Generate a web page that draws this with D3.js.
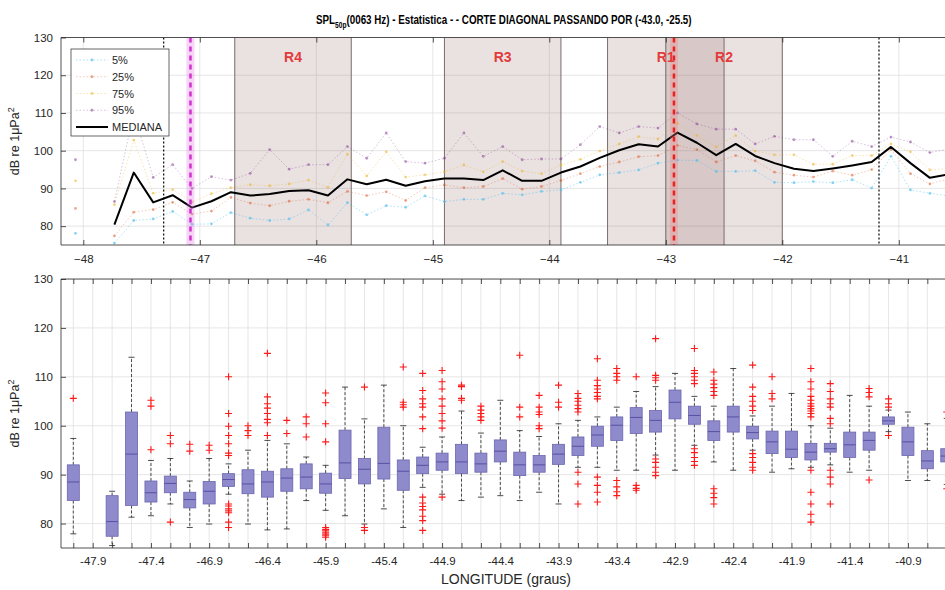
<!DOCTYPE html>
<html>
<head>
<meta charset="utf-8">
<script src="https://cdn.jsdelivr.net/npm/d3@7"></script>
<style>
  body { margin: 0; background: #fff; }
  svg { display: block; font-family: "Liberation Sans", Arial, sans-serif; }
</style>
</head>
<body>
<svg id="chart" width="945" height="590"></svg>
<script>
// Longitude (deg) of each sampling column along the diagonal section
const longitudes = [-48.067, -47.9, -47.733, -47.567, -47.4, -47.233, -47.067, -46.9, -46.733, -46.567,
  -46.4, -46.233, -46.067, -45.9, -45.733, -45.567, -45.4, -45.233, -45.067, -44.9,
  -44.733, -44.567, -44.4, -44.233, -44.067, -43.9, -43.733, -43.567, -43.4, -43.233,
  -43.067, -42.9, -42.733, -42.567, -42.4, -42.233, -42.067, -41.9, -41.733, -41.567,
  -41.4, -41.233, -41.067, -40.9, -40.733, -40.567];

// SPL statistics per column (dB re 1 uPa^2); null = no data
const p05 = [78.1, null, 75.5, 81.5, 81.9, 83.9, 80.5, 80.6, 83.6, 82.1, 81.5, 81.9, 84.3, 80.3, 86.2, 83.0,
  85.4, 85.0, 88.0, 86.5, 87.1, 87.1, 88.7, 88.3, 89.2, 89.6, 91.6, 93.6, 94.2, 94.9, 96.7, 97.5, 97.4,
  94.5, 94.5, 94.7, 91.6, 91.5, 91.8, 91.5, 92.3, 90.1, 98.5, 89.6, 88.7, 88.0];
const q25 = [84.7, null, 77.4, 83.7, 84.4, 86.3, 83.2, 84.0, 87.6, 86.1, 85.4, 86.6, 87.1, 86.2, 89.2, 88.1,
  89.1, 86.8, 90.2, 90.9, 90.2, 90.5, 92.6, 89.8, 90.5, 92.1, 93.9, 95.8, 97.0, 98.4, 98.7, 101.4, 100.3,
  97.0, 98.7, 97.3, 94.3, 93.5, 93.0, 94.6, 93.5, 95.0, 100.3, 93.9, 91.2, 92.6];
const median = [88.5, null, 80.4, 94.2, 86.3, 88.2, 84.9, 86.6, 89.0, 88.1, 88.5, 89.3, 89.5, 88.1, 92.4, 91.1,
  92.3, 90.7, 91.9, 92.6, 92.6, 92.2, 94.8, 92.0, 92.0, 94.2, 95.8, 98.1, 100.1, 101.7, 101.1, 104.8, 102.1,
  98.8, 101.8, 98.6, 96.7, 95.2, 94.6, 95.3, 96.1, 97.0, 101.0, 96.7, 92.8, 93.8];
const q75 = [92.0, null, 85.7, 102.8, 88.7, 89.7, 86.4, 88.6, 90.2, 91.0, 90.7, 91.2, 92.2, 90.3, 99.1, 93.3,
  99.7, 93.0, 93.6, 94.4, 96.2, 94.4, 97.1, 94.6, 93.9, 96.2, 97.7, 99.9, 101.8, 103.7, 103.1, 107.3, 104.0,
  101.0, 104.0, 99.9, 98.9, 98.9, 96.4, 96.4, 98.7, 98.7, 101.8, 99.7, 94.9, 95.3];
const p95 = [97.6, null, 86.5, 110.0, 92.9, 96.3, 90.0, 93.1, 92.2, 94.0, 100.3, 95.1, 96.3, 96.3, 101.1, 98.0,
  104.7, 97.1, 96.7, 98.0, 104.7, 98.5, 101.1, 97.6, 97.8, 97.8, 101.6, 106.4, 104.7, 106.4, 106.0, 110.0, 107.1,
  105.7, 105.7, 101.8, 103.8, 102.9, 102.9, 98.5, 102.5, 101.1, 103.6, 102.3, 99.5, 100.5];

// Box-plot whisker ends and outliers per column
const whiskerLo = [77.9, null, 75.5, 81.3, 81.6, 84.0, 79.2, 79.9, 86.0, 79.9, 78.7, 78.9, 84.7, 82.7, 81.6, 79.9,
  83.0, 79.2, 87.4, 86.0, 84.7, 85.4, 85.7, 84.7, 86.4, 84.0, 91.5, 91.5, 90.9, 90.9, 94.0, 90.9, 96.0,
  92.6, 90.9, 95.0, 90.5, 91.2, 91.5, 92.0, 90.5, 90.9, 98.8, 88.8, 88.8, 88.0];
const whiskerHi = [97.4, null, 86.6, 114.0, 92.9, 93.3, 88.7, 93.3, 92.2, 95.0, 97.0, 96.3, 93.6, 91.9, 107.9, 101.4,
  108.3, 100.0, 95.6, 97.7, 103.0, 98.5, 105.2, 99.0, 97.8, 100.4, 101.1, 101.8, 103.8, 107.0, 108.0, 110.7, 106.0,
  104.0, 111.7, 102.0, 104.0, 106.6, 100.0, 99.5, 106.2, 104.0, 103.2, 102.8, 100.4, 101.5];
const outliers = [
  [105.6], [], [], [], [95.1, 104.0, 105.2], [80.3, 96.3, 98.0], [94.8, 96.2], [95.0, 96.0],
  [93.9, 94.4, 96.3, 98.0, 99.9, 102.5, 110.0, 84.0, 83.6, 83.0, 82.6, 82.2, 80.3, 79.2],
  [98.0, 99.0, 100.0],
  [98.0, 100.6, 101.3, 102.5, 103.6, 104.5, 105.9, 114.8],
  [98.4, 101.1], [97.7, 100.4, 101.8],
  [96.7, 100.4, 104.7, 106.7, 79.2, 78.8, 78.5, 78.1, 77.8, 77.5, 77.2],
  [], [107.9, 79.2, 78.6], [], [103.8, 104.3, 104.8, 112.0],
  [99.4, 101.8, 103.8, 104.5, 105.5, 107.2, 110.7, 85.4, 84.2, 83.5, 82.8, 81.5, 80.6, 78.6],
  [99.5, 101.0, 102.5, 104.0, 105.5, 107.5, 109.0, 111.3, 85.4],
  [105.2, 105.6, 108.0, 108.3],
  [101.1, 101.8, 102.5, 103.2, 104.0],
  [], [101.8, 103.8, 114.4],
  [99.4, 100.0, 102.3, 102.8, 103.8, 106.2],
  [103.8, 104.8, 108.3],
  [102.8, 103.5, 104.2, 105.0, 105.6, 106.6, 90.5, 88.1, 84.0],
  [105.5, 106.0, 106.8, 107.5, 108.2, 109.3, 113.7, 89.5, 87.8, 86.4, 84.4],
  [109.3, 110.0, 110.7, 111.7, 88.8, 87.5, 86.5, 85.7],
  [110.0, 87.8, 87.2, 86.8],
  [109.3, 109.8, 110.3, 117.8, 93.2, 92.5, 91.5, 90.5, 89.8],
  [],
  [108.6, 109.3, 110.0, 110.7, 111.3, 115.8, 95.3, 94.5, 93.5, 92.7, 91.9],
  [106.2, 107.0, 107.8, 108.5, 109.3, 111.0, 87.1, 86.2, 85.3, 84.0],
  [],
  [103.1, 104.0, 105.0, 106.0, 107.9, 112.4, 94.3, 93.5, 92.5, 91.5, 90.9],
  [105.5, 106.6, 110.0],
  [],
  [101.8, 102.5, 103.0, 103.5, 104.0, 104.5, 105.2, 106.0, 107.5, 109.0, 111.7, 90.9, 86.4, 84.0, 81.9, 80.3],
  [100.4, 101.5, 103.8, 104.5, 105.5, 107.0, 108.6, 90.9, 89.5, 88.1, 84.0],
  [],
  [105.9, 106.8, 107.6, 88.9],
  [103.8, 104.5, 105.5, 98.0],
  [], [], [102.8, 87.1]
];

// Axis ticks
const topLonTicks = [-48, -47, -46, -45, -44, -43, -42, -41];
const yTicks = [80, 90, 100, 110, 120, 130];
const boxTickLabels = ["-47.9", "-47.4", "-46.9", "-46.4", "-45.9", "-45.4", "-44.9", "-44.4", "-43.9",
  "-43.4", "-42.9", "-42.4", "-41.9", "-41.4", "-40.9"];

// Regions and reference longitudes
const regionNames = ["R1", "R2", "R3", "R4"];
const regionStart = [-43.5, -43.0, -44.9, -46.7];
const regionEnd = [-42.5, -42.0, -43.9, -45.7];
const dottedLons = [-47.31, -41.17];
const magentaLon = -47.08;
const redLon = -42.93;

const seriesNames = ["5%", "25%", "75%", "95%", "MEDIANA"];

// ---------------------------------------------------------------
const svg = d3.select("#chart");
const ink = "#262626";
const gridCol = "#e0e0e0";

svg.append("rect").attr("width", 945).attr("height", 590).attr("fill", "#fff");

const L = 61, R = 1000;
const topBox = { t: 37.5, b: 245 };
const botBox = { t: 279, b: 548 };

const xTop = d3.scaleLinear().domain([-48, -41]).range([83.3, 898.8]);
const yTop = d3.scaleLinear().domain([75, 130]).range([topBox.b, topBox.t]);
const xBot = d3.scaleLinear().domain([1, 46]).range([73.3, 946.75]);
const yBot = d3.scaleLinear().domain([75, 130]).range([botBox.b, botBox.t]);

const defs = svg.append("defs");
defs.append("clipPath").attr("id", "clipTop").append("rect")
  .attr("x", L).attr("y", topBox.t).attr("width", R - L).attr("height", topBox.b - topBox.t);
defs.append("clipPath").attr("id", "clipBot").append("rect")
  .attr("x", L).attr("y", botBox.t).attr("width", R - L).attr("height", botBox.b - botBox.t);

// ================= TOP PANEL =================
const gTop = svg.append("g");
const plotTop = gTop.append("g").attr("clip-path", "url(#clipTop)");

// grid
plotTop.selectAll(".vg").data(topLonTicks).join("line")
  .attr("x1", d => xTop(d)).attr("x2", d => xTop(d))
  .attr("y1", topBox.t).attr("y2", topBox.b)
  .attr("stroke", gridCol).attr("stroke-width", 0.8);
plotTop.selectAll(".hg").data(yTicks).join("line")
  .attr("x1", L).attr("x2", R).attr("y1", d => yTop(d)).attr("y2", d => yTop(d))
  .attr("stroke", gridCol).attr("stroke-width", 0.8);

// shaded regions
const regions = regionNames.map((n, i) => ({ name: n, a: regionStart[i], b: regionEnd[i] }));
plotTop.selectAll(".reg").data(regions).join("rect")
  .attr("x", d => xTop(d.a)).attr("width", d => xTop(d.b) - xTop(d.a))
  .attr("y", topBox.t).attr("height", topBox.b - topBox.t)
  .attr("fill", "rgb(130,80,80)").attr("fill-opacity", 0.17);
regions.forEach(d => {
  [d.a, d.b].forEach(v => {
    plotTop.append("line")
      .attr("x1", xTop(v)).attr("x2", xTop(v))
      .attr("y1", topBox.t).attr("y2", topBox.b)
      .attr("stroke", "#7a6d6d").attr("stroke-width", 1);
  });
});

// percentile series
const pts = (arr) => arr.map((v, i) => ({ x: longitudes[i], v }));
const lineTop = d3.line().defined(d => d.v != null).x(d => xTop(d.x)).y(d => yTop(d.v));
const pctSeries = [
  { vals: p05, color: "#4DBEEE", op: 0.45 },
  { vals: q25, color: "#D95319", op: 0.3 },
  { vals: q75, color: "#EDB120", op: 0.35 },
  { vals: p95, color: "#7E2F8E", op: 0.3 }
];
pctSeries.forEach(s => {
  const data = pts(s.vals);
  plotTop.append("path").datum(data).attr("d", lineTop)
    .attr("fill", "none").attr("stroke", s.color).attr("stroke-opacity", s.op)
    .attr("stroke-width", 1).attr("stroke-dasharray", "1.5,2");
  plotTop.selectAll(null).data(data.filter(d => d.v != null)).join("circle")
    .attr("cx", d => xTop(d.x)).attr("cy", d => yTop(d.v)).attr("r", 1.4)
    .attr("fill", s.color).attr("fill-opacity", s.op + 0.2);
});

// median
plotTop.append("path").datum(pts(median)).attr("d", lineTop)
  .attr("fill", "none").attr("stroke", "#000").attr("stroke-width", 2)
  .attr("stroke-linejoin", "round");

// reference verticals
dottedLons.forEach(v => {
  plotTop.append("line").attr("x1", xTop(v)).attr("x2", xTop(v))
    .attr("y1", topBox.t).attr("y2", topBox.b)
    .attr("stroke", "#000").attr("stroke-width", 1.2).attr("stroke-dasharray", "2,2");
});
[[magentaLon, "#e070e0", "#d22fd2"], [redLon, "#f08080", "#e82020"]].forEach(([v, band, col]) => {
  plotTop.append("line").attr("x1", xTop(v)).attr("x2", xTop(v))
    .attr("y1", topBox.t).attr("y2", topBox.b)
    .attr("stroke", band).attr("stroke-opacity", 0.3).attr("stroke-width", 8);
  plotTop.append("line").attr("x1", xTop(v)).attr("x2", xTop(v))
    .attr("y1", topBox.t).attr("y2", topBox.b)
    .attr("stroke", col).attr("stroke-width", 2.5).attr("stroke-dasharray", "5,4");
});

// region labels
gTop.selectAll(".rlab").data(regions).join("text")
  .attr("x", d => xTop((d.a + d.b) / 2)).attr("y", 62)
  .attr("text-anchor", "middle").attr("font-weight", "bold").attr("font-size", 14)
  .attr("fill", "#e33a3a").text(d => d.name);

// axes frame + ticks
gTop.append("line").attr("x1", L).attr("x2", R).attr("y1", topBox.t).attr("y2", topBox.t).attr("stroke", ink).attr("stroke-width", 0.8);
gTop.append("line").attr("x1", L).attr("x2", R).attr("y1", topBox.b).attr("y2", topBox.b).attr("stroke", ink).attr("stroke-width", 0.8);
gTop.append("line").attr("x1", L).attr("x2", L).attr("y1", topBox.t).attr("y2", topBox.b).attr("stroke", ink).attr("stroke-width", 0.8);

const axTopB = gTop.append("g").attr("transform", `translate(0,${topBox.b})`)
  .call(d3.axisBottom(xTop).tickValues(topLonTicks).tickSize(-5).tickPadding(10).tickFormat(d3.format("d")));
const axTopT = gTop.append("g").attr("transform", `translate(0,${topBox.t})`)
  .call(d3.axisTop(xTop).tickValues(topLonTicks).tickSize(-5).tickFormat(""));
const axTopL = gTop.append("g").attr("transform", `translate(${L},0)`)
  .call(d3.axisLeft(yTop).tickValues(yTicks).tickSize(-5).tickPadding(8));
[axTopB, axTopT, axTopL].forEach(a => {
  a.select(".domain").remove();
  a.selectAll(".tick line").attr("stroke", ink).attr("stroke-width", 0.8);
  a.selectAll("text").attr("fill", ink).attr("font-size", 11.5).attr("font-family", "Liberation Sans, Arial, sans-serif");
});

// legend
const leg = gTop.append("g");
leg.append("rect").attr("x", 71).attr("y", 49).attr("width", 98).attr("height", 87)
  .attr("fill", "#fff").attr("stroke", ink).attr("stroke-width", 0.7);
const legY = d3.scalePoint().domain(seriesNames).range([60, 127]);
seriesNames.forEach((n, i) => {
  const y = legY(n);
  if (i < 4) {
    const s = pctSeries[i];
    leg.append("line").attr("x1", 76).attr("x2", 108).attr("y1", y).attr("y2", y)
      .attr("stroke", s.color).attr("stroke-opacity", s.op).attr("stroke-dasharray", "1.5,2");
    leg.append("circle").attr("cx", 92).attr("cy", y).attr("r", 1.4)
      .attr("fill", s.color).attr("fill-opacity", s.op + 0.2);
  } else {
    leg.append("line").attr("x1", 76).attr("x2", 108).attr("y1", y).attr("y2", y)
      .attr("stroke", "#000").attr("stroke-width", 2);
  }
  leg.append("text").attr("x", 112).attr("y", y + 4).attr("font-size", 11)
    .attr("fill", ink).text(n);
});

// title
const title = svg.append("text").attr("x", 0).attr("y", 0)
  .attr("font-weight", "bold").attr("font-size", 12.5).attr("fill", "#000");
title.append("tspan").text("SPL");
title.append("tspan").attr("font-size", 8.5).attr("dy", 4).text("50p");
title.append("tspan").attr("dy", -4).text("(0063 Hz) - Estatistica -  - CORTE DIAGONAL PASSANDO POR (-43.0, -25.5)");
{
  const w = title.node().getComputedTextLength();
  const target = 376;
  const s = target / w;
  title.attr("transform", `translate(${504 - target / 2},24) scale(${s},1)`);
}

// y titles
function yTitle(cy) {
  const t = svg.append("text")
    .attr("transform", `translate(19,${cy}) rotate(-90)`)
    .attr("text-anchor", "middle").attr("font-size", 12.5).attr("fill", ink);
  t.append("tspan").text("dB re 1\u03bcPa");
  t.append("tspan").attr("dy", -5).attr("font-size", 9).text("2");
}
yTitle((topBox.t + topBox.b) / 2);
yTitle((botBox.t + botBox.b) / 2);

// ================= BOTTOM PANEL =================
const gBot = svg.append("g");
const plotBot = gBot.append("g").attr("clip-path", "url(#clipBot)");
const positions = d3.range(1, 49);

plotBot.selectAll(".vg").data(positions).join("line")
  .attr("x1", d => xBot(d)).attr("x2", d => xBot(d))
  .attr("y1", botBox.t).attr("y2", botBox.b)
  .attr("stroke", gridCol).attr("stroke-width", 0.8);
plotBot.selectAll(".hg").data(yTicks).join("line")
  .attr("x1", L).attr("x2", R).attr("y1", d => yBot(d)).attr("y2", d => yBot(d))
  .attr("stroke", gridCol).attr("stroke-width", 0.8);

const boxes = longitudes.map((lon, i) => ({
  p: i + 1, q1: q25[i], med: median[i], q3: q75[i],
  lo: whiskerLo[i], hi: whiskerHi[i], out: outliers[i]
})).filter(d => d.med != null);

const bw = 12, cw = 6;
boxes.forEach(d => {
  const cx = xBot(d.p);
  const g = plotBot.append("g");
  // whiskers
  g.append("line").attr("x1", cx).attr("x2", cx).attr("y1", yBot(d.q3)).attr("y2", yBot(d.hi))
    .attr("stroke", "#222").attr("stroke-width", 0.8).attr("stroke-dasharray", "3,2");
  g.append("line").attr("x1", cx).attr("x2", cx).attr("y1", yBot(d.q1)).attr("y2", yBot(d.lo))
    .attr("stroke", "#222").attr("stroke-width", 0.8).attr("stroke-dasharray", "3,2");
  [d.hi, d.lo].forEach(v => {
    g.append("line").attr("x1", cx - cw / 2).attr("x2", cx + cw / 2)
      .attr("y1", yBot(v)).attr("y2", yBot(v)).attr("stroke", "#222").attr("stroke-width", 0.8);
  });
  // box
  g.append("rect").attr("x", cx - bw / 2).attr("width", bw)
    .attr("y", yBot(d.q3)).attr("height", Math.max(1, yBot(d.q1) - yBot(d.q3)))
    .attr("fill", "#8e8acb").attr("stroke", "#6a66b0").attr("stroke-width", 0.8);
  g.append("line").attr("x1", cx - bw / 2).attr("x2", cx + bw / 2)
    .attr("y1", yBot(d.med)).attr("y2", yBot(d.med))
    .attr("stroke", "#5a4fa5").attr("stroke-width", 1);
  // outliers
  d.out.forEach(v => {
    const y = yBot(v);
    g.append("path").attr("d", `M${cx - 3.5},${y}H${cx + 3.5}M${cx},${y - 3.5}V${y + 3.5}`)
      .attr("stroke", "#ff1a1a").attr("stroke-width", 1.1);
  });
});

gBot.append("line").attr("x1", L).attr("x2", R).attr("y1", botBox.t).attr("y2", botBox.t).attr("stroke", ink).attr("stroke-width", 0.8);
gBot.append("line").attr("x1", L).attr("x2", R).attr("y1", botBox.b).attr("y2", botBox.b).attr("stroke", ink).attr("stroke-width", 0.8);
gBot.append("line").attr("x1", L).attr("x2", L).attr("y1", botBox.t).attr("y2", botBox.b).attr("stroke", ink).attr("stroke-width", 0.8);

// bottom axis: a label on every third column, starting with the second
const labelledPos = boxTickLabels.map((_, k) => 2 + 3 * k);
const axBotB = gBot.append("g").attr("transform", `translate(0,${botBox.b})`)
  .call(d3.axisBottom(xBot).tickValues(positions).tickSize(-5).tickPadding(9)
    .tickFormat(p => { const k = labelledPos.indexOf(p); return k >= 0 ? boxTickLabels[k] : ""; }));
const axBotT = gBot.append("g").attr("transform", `translate(0,${botBox.t})`)
  .call(d3.axisTop(xBot).tickValues(positions).tickSize(-5).tickFormat(""));
const axBotL = gBot.append("g").attr("transform", `translate(${L},0)`)
  .call(d3.axisLeft(yBot).tickValues(yTicks).tickSize(-5).tickPadding(8));
[axBotB, axBotT, axBotL].forEach(a => {
  a.select(".domain").remove();
  a.selectAll(".tick line").attr("stroke", ink).attr("stroke-width", 0.8);
  a.selectAll("text").attr("fill", ink).attr("font-size", 11.5).attr("font-family", "Liberation Sans, Arial, sans-serif");
});

svg.append("text").attr("x", 506).attr("y", 584).attr("text-anchor", "middle")
  .attr("font-size", 14).attr("fill", ink).text("LONGITUDE (graus)");
</script>
</body>
</html>
